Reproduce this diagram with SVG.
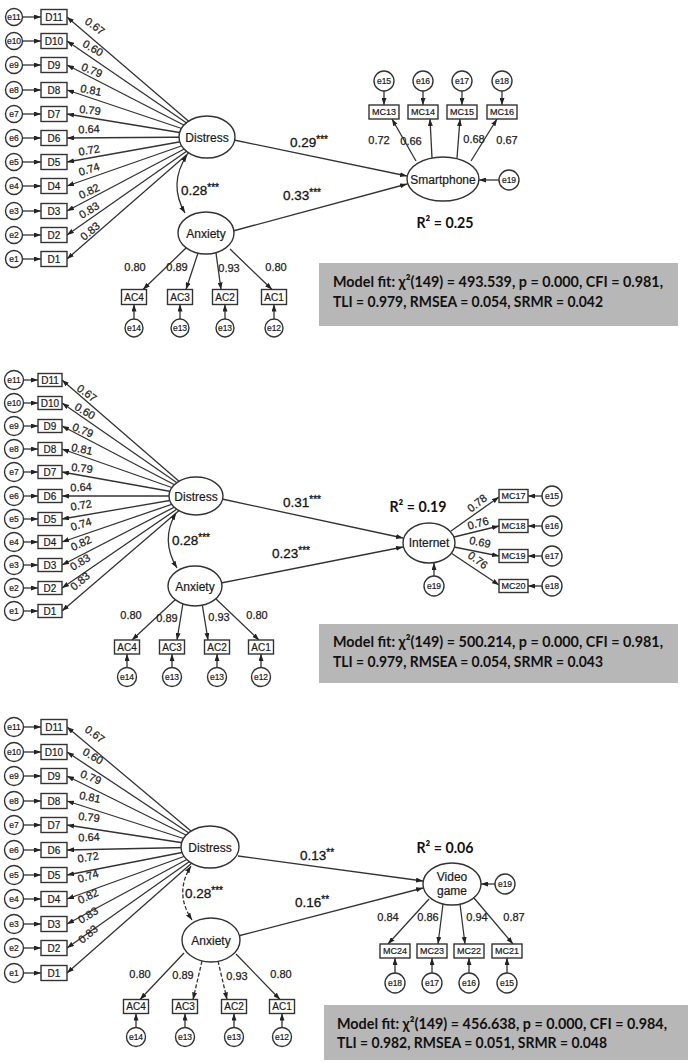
<svg xmlns="http://www.w3.org/2000/svg" width="690" height="1063" viewBox="0 0 690 1063">
<style>
.ln{stroke:#333;stroke-width:1.3;fill:none;marker-end:url(#ah)}
.dl{stroke:#333;stroke-width:1.3;fill:none;stroke-dasharray:4 2;marker-end:url(#ah)}
.cv{stroke:#333;stroke-width:1.3;fill:none;marker-start:url(#ah);marker-end:url(#ah)}
.cd{stroke:#333;stroke-width:1.3;fill:none;stroke-dasharray:4 2;marker-start:url(#ah);marker-end:url(#ah)}
.nd{fill:#fff;stroke:#333;stroke-width:1.4}
.t{font-family:"Liberation Sans",Arial,sans-serif;fill:#1a1a1a;text-anchor:middle;stroke:#1a1a1a;stroke-width:0.2}
.e{font-size:8.5px}
.bx{font-size:10px}
.mc{font-size:9px}
.lv{font-size:12px}
.ld{font-family:"Liberation Sans",Arial,sans-serif;fill:#222;font-size:11px;text-anchor:middle;stroke:#222;stroke-width:0.25}
.pc{font-family:"Liberation Sans",Arial,sans-serif;fill:#151515;font-size:13.5px;stroke:#151515;stroke-width:0.3}
.st{font-size:10px}
.r2{font-family:Lato,"Liberation Sans",sans-serif;font-weight:bold;fill:#111;font-size:15px;text-anchor:middle}
.fit{fill:#b7b7b7}
.ft{font-family:Lato,"Liberation Sans",sans-serif;font-weight:bold;fill:#111;font-size:14.5px}
</style>
<defs>
<marker id="ah" viewBox="0 0 7 5" refX="7" refY="2.5" markerWidth="7" markerHeight="5" markerUnits="userSpaceOnUse" orient="auto-start-reverse"><path d="M0,0 L7,2.5 L0,5 z" fill="#222"/></marker>
</defs>
<rect width="690" height="1063" fill="#fff"/>

<!-- ================= PANEL 1 ================= -->
<g id="p1-connectors">
<line class="ln" x1="22.5" y1="17" x2="41" y2="17"/>
<line class="ln" x1="22.5" y1="41" x2="41" y2="41"/>
<line class="ln" x1="22.5" y1="65" x2="41" y2="65"/>
<line class="ln" x1="22.5" y1="90" x2="41" y2="90"/>
<line class="ln" x1="22.5" y1="114" x2="41" y2="114"/>
<line class="ln" x1="22.5" y1="138" x2="41" y2="138"/>
<line class="ln" x1="22.5" y1="162" x2="41" y2="162"/>
<line class="ln" x1="22.5" y1="186" x2="41" y2="186"/>
<line class="ln" x1="22.5" y1="211" x2="41" y2="211"/>
<line class="ln" x1="22.5" y1="235" x2="41" y2="235"/>
<line class="ln" x1="22.5" y1="259" x2="41" y2="259"/>
<line class="ln" x1="207" y1="137" x2="67" y2="17"/>
<line class="ln" x1="207" y1="137" x2="67" y2="41"/>
<line class="ln" x1="207" y1="137" x2="67" y2="65"/>
<line class="ln" x1="207" y1="137" x2="67" y2="90"/>
<line class="ln" x1="207" y1="137" x2="67" y2="114"/>
<line class="ln" x1="207" y1="137" x2="67" y2="138"/>
<line class="ln" x1="207" y1="137" x2="67" y2="162"/>
<line class="ln" x1="207" y1="137" x2="67" y2="186"/>
<line class="ln" x1="207" y1="137" x2="67" y2="211"/>
<line class="ln" x1="207" y1="137" x2="67" y2="235"/>
<line class="ln" x1="207" y1="137" x2="67" y2="259"/>
<path class="cv" d="M187,155 Q168,184 185,213"/>
<line class="ln" x1="234" y1="140" x2="407" y2="176"/>
<line class="ln" x1="233" y1="231" x2="407" y2="184"/>
<line class="ln" x1="186" y1="248" x2="143" y2="289.5"/>
<line class="ln" x1="198" y1="253" x2="186" y2="289.5"/>
<line class="ln" x1="216" y1="253" x2="221" y2="289.5"/>
<line class="ln" x1="230" y1="249" x2="272" y2="289.5"/>
<line class="ln" x1="134" y1="319" x2="134" y2="304.5"/>
<line class="ln" x1="180" y1="319" x2="180" y2="304.5"/>
<line class="ln" x1="225" y1="319" x2="225" y2="304.5"/>
<line class="ln" x1="274" y1="319" x2="274" y2="304.5"/>
<line class="ln" x1="416" y1="161" x2="392" y2="119"/>
<line class="ln" x1="432" y1="158" x2="430" y2="119"/>
<line class="ln" x1="457" y1="158" x2="460" y2="119"/>
<line class="ln" x1="471" y1="161" x2="497" y2="119"/>
<line class="ln" x1="384" y1="91" x2="384" y2="105"/>
<line class="ln" x1="423" y1="91" x2="423" y2="105"/>
<line class="ln" x1="462" y1="91" x2="462" y2="105"/>
<line class="ln" x1="502" y1="91" x2="502" y2="105"/>
<line class="ln" x1="499" y1="180" x2="479" y2="180"/>
</g>
<g id="p1-e11"><circle class="nd" cx="14" cy="17" r="8.5"/><text class="t e" x="14" y="20">e11</text></g>
<g id="p1-e10"><circle class="nd" cx="14" cy="41" r="8.5"/><text class="t e" x="14" y="44">e10</text></g>
<g id="p1-e9"><circle class="nd" cx="14" cy="65" r="8.5"/><text class="t e" x="14" y="68">e9</text></g>
<g id="p1-e8"><circle class="nd" cx="14" cy="90" r="8.5"/><text class="t e" x="14" y="93">e8</text></g>
<g id="p1-e7"><circle class="nd" cx="14" cy="114" r="8.5"/><text class="t e" x="14" y="117">e7</text></g>
<g id="p1-e6"><circle class="nd" cx="14" cy="138" r="8.5"/><text class="t e" x="14" y="141">e6</text></g>
<g id="p1-e5"><circle class="nd" cx="14" cy="162" r="8.5"/><text class="t e" x="14" y="165">e5</text></g>
<g id="p1-e4"><circle class="nd" cx="14" cy="186" r="8.5"/><text class="t e" x="14" y="189">e4</text></g>
<g id="p1-e3"><circle class="nd" cx="14" cy="211" r="8.5"/><text class="t e" x="14" y="214">e3</text></g>
<g id="p1-e2"><circle class="nd" cx="14" cy="235" r="8.5"/><text class="t e" x="14" y="238">e2</text></g>
<g id="p1-e1"><circle class="nd" cx="14" cy="259" r="8.5"/><text class="t e" x="14" y="262">e1</text></g>
<g id="p1-D11"><rect class="nd" x="41" y="9.5" width="26" height="15"/><text class="t bx" x="54" y="20.5">D11</text></g>
<g id="p1-D10"><rect class="nd" x="41" y="33.5" width="26" height="15"/><text class="t bx" x="54" y="44.5">D10</text></g>
<g id="p1-D9"><rect class="nd" x="41" y="57.5" width="26" height="15"/><text class="t bx" x="54" y="68.5">D9</text></g>
<g id="p1-D8"><rect class="nd" x="41" y="82.5" width="26" height="15"/><text class="t bx" x="54" y="93.5">D8</text></g>
<g id="p1-D7"><rect class="nd" x="41" y="106.5" width="26" height="15"/><text class="t bx" x="54" y="117.5">D7</text></g>
<g id="p1-D6"><rect class="nd" x="41" y="130.5" width="26" height="15"/><text class="t bx" x="54" y="141.5">D6</text></g>
<g id="p1-D5"><rect class="nd" x="41" y="154.5" width="26" height="15"/><text class="t bx" x="54" y="165.5">D5</text></g>
<g id="p1-D4"><rect class="nd" x="41" y="178.5" width="26" height="15"/><text class="t bx" x="54" y="189.5">D4</text></g>
<g id="p1-D3"><rect class="nd" x="41" y="203.5" width="26" height="15"/><text class="t bx" x="54" y="214.5">D3</text></g>
<g id="p1-D2"><rect class="nd" x="41" y="227.5" width="26" height="15"/><text class="t bx" x="54" y="238.5">D2</text></g>
<g id="p1-D1"><rect class="nd" x="41" y="251.5" width="26" height="15"/><text class="t bx" x="54" y="262.5">D1</text></g>
<g id="p1-distress"><ellipse class="nd" cx="207" cy="137" rx="28" ry="21"/><text class="t lv" x="207" y="141.5">Distress</text></g>
<g id="p1-anxiety"><ellipse class="nd" cx="206" cy="233" rx="28" ry="21"/><text class="t lv" x="206" y="237.5">Anxiety</text></g>
<g id="p1-AC4"><rect class="nd" x="121.5" y="289.5" width="25" height="15"/><text class="t bx" x="134" y="300.5">AC4</text></g>
<g id="p1-AC3"><rect class="nd" x="167.5" y="289.5" width="25" height="15"/><text class="t bx" x="180" y="300.5">AC3</text></g>
<g id="p1-AC2"><rect class="nd" x="212.5" y="289.5" width="25" height="15"/><text class="t bx" x="225" y="300.5">AC2</text></g>
<g id="p1-AC1"><rect class="nd" x="261.5" y="289.5" width="25" height="15"/><text class="t bx" x="274" y="300.5">AC1</text></g>
<g id="p1-e14"><circle class="nd" cx="134" cy="328" r="9"/><text class="t e" x="134" y="331">e14</text></g>
<g id="p1-e13a"><circle class="nd" cx="180" cy="328" r="9"/><text class="t e" x="180" y="331">e13</text></g>
<g id="p1-e13b"><circle class="nd" cx="225" cy="328" r="9"/><text class="t e" x="225" y="331">e13</text></g>
<g id="p1-e12"><circle class="nd" cx="274" cy="328" r="9"/><text class="t e" x="274" y="331">e12</text></g>
<g id="p1-smartphone"><ellipse class="nd" cx="443" cy="179" rx="36" ry="22"/><text class="t lv" x="443" y="183.5">Smartphone</text></g>
<g id="p1-MC13"><rect class="nd" x="369" y="105" width="30" height="14"/><text class="t mc" x="384" y="115.2">MC13</text></g>
<g id="p1-MC14"><rect class="nd" x="408" y="105" width="30" height="14"/><text class="t mc" x="423" y="115.2">MC14</text></g>
<g id="p1-MC15"><rect class="nd" x="447" y="105" width="30" height="14"/><text class="t mc" x="462" y="115.2">MC15</text></g>
<g id="p1-MC16"><rect class="nd" x="487" y="105" width="30" height="14"/><text class="t mc" x="502" y="115.2">MC16</text></g>
<g id="p1-e15"><circle class="nd" cx="384" cy="81" r="10"/><text class="t e" x="384" y="84">e15</text></g>
<g id="p1-e16"><circle class="nd" cx="423" cy="81" r="10"/><text class="t e" x="423" y="84">e16</text></g>
<g id="p1-e17"><circle class="nd" cx="462" cy="81" r="10"/><text class="t e" x="462" y="84">e17</text></g>
<g id="p1-e18"><circle class="nd" cx="502" cy="81" r="10"/><text class="t e" x="502" y="84">e18</text></g>
<g id="p1-e19"><circle class="nd" cx="509" cy="180" r="10"/><text class="t e" x="509" y="183">e19</text></g>
<g id="p1-labels">
<text class="ld" transform="translate(95,26) rotate(36)" dy="4">0.67</text>
<text class="ld" transform="translate(93,48) rotate(30)" dy="4">0.60</text>
<text class="ld" transform="translate(92,70) rotate(22)" dy="4">0.79</text>
<text class="ld" transform="translate(91,90) rotate(12)" dy="4">0.81</text>
<text class="ld" transform="translate(90,110) rotate(6)" dy="4">0.79</text>
<text class="ld" transform="translate(89,129) rotate(-3)" dy="4">0.64</text>
<text class="ld" transform="translate(89,150) rotate(-10)" dy="4">0.72</text>
<text class="ld" transform="translate(89,169) rotate(-17)" dy="4">0.74</text>
<text class="ld" transform="translate(89,191) rotate(-25)" dy="4">0.82</text>
<text class="ld" transform="translate(89,210) rotate(-32)" dy="4">0.83</text>
<text class="ld" transform="translate(90,231) rotate(-40)" dy="4">0.83</text>
<text class="ld" x="135" y="271">0.80</text>
<text class="ld" x="177" y="271">0.89</text>
<text class="ld" x="229" y="272">0.93</text>
<text class="ld" x="276" y="271">0.80</text>
<text class="ld" x="379" y="144">0.72</text>
<text class="ld" x="411" y="145">0.66</text>
<text class="ld" x="474" y="143">0.68</text>
<text class="ld" x="507" y="144">0.67</text>
<text class="pc" x="181" y="195">0.28<tspan class="st" dy="-4">***</tspan></text>
<text class="pc" x="290" y="147">0.29<tspan class="st" dy="-4">***</tspan></text>
<text class="pc" x="283" y="200">0.33<tspan class="st" dy="-4">***</tspan></text>
<text class="r2" x="445" y="228" textLength="57" lengthAdjust="spacingAndGlyphs">R² = 0.25</text>
</g>
<g id="p1-fit">
<rect class="fit" x="319" y="263" width="359" height="63"/>
<text class="ft" x="333" y="287" textLength="330" lengthAdjust="spacingAndGlyphs">Model fit: χ²(149) = 493.539, p = 0.000, CFI = 0.981,</text>
<text class="ft" x="333" y="307" textLength="270" lengthAdjust="spacingAndGlyphs">TLI = 0.979, RMSEA = 0.054, SRMR = 0.042</text>
</g>

<!-- ================= PANEL 2 ================= -->
<g id="p2-connectors">
<line class="ln" x1="23.5" y1="380" x2="38" y2="380"/>
<line class="ln" x1="23.5" y1="403" x2="38" y2="403"/>
<line class="ln" x1="23.5" y1="426" x2="38" y2="426"/>
<line class="ln" x1="23.5" y1="449" x2="38" y2="449"/>
<line class="ln" x1="23.5" y1="472" x2="38" y2="472"/>
<line class="ln" x1="23.5" y1="496" x2="38" y2="496"/>
<line class="ln" x1="23.5" y1="519" x2="38" y2="519"/>
<line class="ln" x1="23.5" y1="542" x2="38" y2="542"/>
<line class="ln" x1="23.5" y1="565" x2="38" y2="565"/>
<line class="ln" x1="23.5" y1="588" x2="38" y2="588"/>
<line class="ln" x1="23.5" y1="611" x2="38" y2="611"/>
<line class="ln" x1="196" y1="496" x2="62" y2="380"/>
<line class="ln" x1="196" y1="496" x2="62" y2="403"/>
<line class="ln" x1="196" y1="496" x2="62" y2="426"/>
<line class="ln" x1="196" y1="496" x2="62" y2="449"/>
<line class="ln" x1="196" y1="496" x2="62" y2="472"/>
<line class="ln" x1="196" y1="496" x2="62" y2="496"/>
<line class="ln" x1="196" y1="496" x2="62" y2="519"/>
<line class="ln" x1="196" y1="496" x2="62" y2="542"/>
<line class="ln" x1="196" y1="496" x2="62" y2="565"/>
<line class="ln" x1="196" y1="496" x2="62" y2="588"/>
<line class="ln" x1="196" y1="496" x2="62" y2="611"/>
<path class="cv" d="M176,513 Q160,540 177,568"/>
<line class="ln" x1="222" y1="499" x2="403" y2="538"/>
<line class="ln" x1="221" y1="583" x2="403" y2="547"/>
<line class="ln" x1="176" y1="599" x2="132" y2="640"/>
<line class="ln" x1="183" y1="603" x2="177" y2="640"/>
<line class="ln" x1="202" y1="603" x2="208" y2="640"/>
<line class="ln" x1="216" y1="599" x2="259" y2="640"/>
<line class="ln" x1="127" y1="667.5" x2="127" y2="654"/>
<line class="ln" x1="172" y1="667.5" x2="172" y2="654"/>
<line class="ln" x1="217" y1="667.5" x2="217" y2="654"/>
<line class="ln" x1="261" y1="667.5" x2="261" y2="654"/>
<line class="ln" x1="451" y1="531" x2="499" y2="497"/>
<line class="ln" x1="454" y1="537" x2="499" y2="526"/>
<line class="ln" x1="454" y1="547" x2="499" y2="556"/>
<line class="ln" x1="451" y1="553" x2="499" y2="585"/>
<line class="ln" x1="542" y1="496" x2="528" y2="496"/>
<line class="ln" x1="542" y1="526" x2="528" y2="526"/>
<line class="ln" x1="542" y1="556" x2="528" y2="556"/>
<line class="ln" x1="542" y1="586" x2="528" y2="586"/>
<line class="ln" x1="434" y1="576" x2="434" y2="563"/>
</g>
<g id="p2-e11"><circle class="nd" cx="14" cy="380" r="9.5"/><text class="t e" x="14" y="383">e11</text></g>
<g id="p2-e10"><circle class="nd" cx="14" cy="403" r="9.5"/><text class="t e" x="14" y="406">e10</text></g>
<g id="p2-e9"><circle class="nd" cx="14" cy="426" r="9.5"/><text class="t e" x="14" y="429">e9</text></g>
<g id="p2-e8"><circle class="nd" cx="14" cy="449" r="9.5"/><text class="t e" x="14" y="452">e8</text></g>
<g id="p2-e7"><circle class="nd" cx="14" cy="472" r="9.5"/><text class="t e" x="14" y="475">e7</text></g>
<g id="p2-e6"><circle class="nd" cx="14" cy="496" r="9.5"/><text class="t e" x="14" y="499">e6</text></g>
<g id="p2-e5"><circle class="nd" cx="14" cy="519" r="9.5"/><text class="t e" x="14" y="522">e5</text></g>
<g id="p2-e4"><circle class="nd" cx="14" cy="542" r="9.5"/><text class="t e" x="14" y="545">e4</text></g>
<g id="p2-e3"><circle class="nd" cx="14" cy="565" r="9.5"/><text class="t e" x="14" y="568">e3</text></g>
<g id="p2-e2"><circle class="nd" cx="14" cy="588" r="9.5"/><text class="t e" x="14" y="591">e2</text></g>
<g id="p2-e1"><circle class="nd" cx="14" cy="611" r="9.5"/><text class="t e" x="14" y="614">e1</text></g>
<g id="p2-D11"><rect class="nd" x="38" y="373.5" width="24" height="13"/><text class="t bx" x="50" y="383.5">D11</text></g>
<g id="p2-D10"><rect class="nd" x="38" y="396.5" width="24" height="13"/><text class="t bx" x="50" y="406.5">D10</text></g>
<g id="p2-D9"><rect class="nd" x="38" y="419.5" width="24" height="13"/><text class="t bx" x="50" y="429.5">D9</text></g>
<g id="p2-D8"><rect class="nd" x="38" y="442.5" width="24" height="13"/><text class="t bx" x="50" y="452.5">D8</text></g>
<g id="p2-D7"><rect class="nd" x="38" y="465.5" width="24" height="13"/><text class="t bx" x="50" y="475.5">D7</text></g>
<g id="p2-D6"><rect class="nd" x="38" y="489.5" width="24" height="13"/><text class="t bx" x="50" y="499.5">D6</text></g>
<g id="p2-D5"><rect class="nd" x="38" y="512.5" width="24" height="13"/><text class="t bx" x="50" y="522.5">D5</text></g>
<g id="p2-D4"><rect class="nd" x="38" y="535.5" width="24" height="13"/><text class="t bx" x="50" y="545.5">D4</text></g>
<g id="p2-D3"><rect class="nd" x="38" y="558.5" width="24" height="13"/><text class="t bx" x="50" y="568.5">D3</text></g>
<g id="p2-D2"><rect class="nd" x="38" y="581.5" width="24" height="13"/><text class="t bx" x="50" y="591.5">D2</text></g>
<g id="p2-D1"><rect class="nd" x="38" y="604.5" width="24" height="13"/><text class="t bx" x="50" y="614.5">D1</text></g>
<g id="p2-distress"><ellipse class="nd" cx="196" cy="496" rx="27" ry="19"/><text class="t lv" x="196" y="500.5">Distress</text></g>
<g id="p2-anxiety"><ellipse class="nd" cx="195" cy="586" rx="27" ry="20"/><text class="t lv" x="195" y="590.5">Anxiety</text></g>
<g id="p2-AC4"><rect class="nd" x="114.5" y="640" width="25" height="14"/><text class="t bx" x="127" y="650.5">AC4</text></g>
<g id="p2-AC3"><rect class="nd" x="159.5" y="640" width="25" height="14"/><text class="t bx" x="172" y="650.5">AC3</text></g>
<g id="p2-AC2"><rect class="nd" x="204.5" y="640" width="25" height="14"/><text class="t bx" x="217" y="650.5">AC2</text></g>
<g id="p2-AC1"><rect class="nd" x="248.5" y="640" width="25" height="14"/><text class="t bx" x="261" y="650.5">AC1</text></g>
<g id="p2-e14"><circle class="nd" cx="127" cy="677" r="9.5"/><text class="t e" x="127" y="680">e14</text></g>
<g id="p2-e13a"><circle class="nd" cx="172" cy="677" r="9.5"/><text class="t e" x="172" y="680">e13</text></g>
<g id="p2-e13b"><circle class="nd" cx="217" cy="677" r="9.5"/><text class="t e" x="217" y="680">e13</text></g>
<g id="p2-e12"><circle class="nd" cx="261" cy="677" r="9.5"/><text class="t e" x="261" y="680">e12</text></g>
<g id="p2-internet"><ellipse class="nd" cx="429" cy="543" rx="26" ry="20"/><text class="t lv" x="429" y="547" font-size="11.5">Internet</text></g>
<g id="p2-MC17"><rect class="nd" x="499" y="489.5" width="29" height="13"/><text class="t mc" x="513.5" y="499.2">MC17</text></g>
<g id="p2-MC18"><rect class="nd" x="499" y="519.5" width="29" height="13"/><text class="t mc" x="513.5" y="529.2">MC18</text></g>
<g id="p2-MC19"><rect class="nd" x="499" y="549.5" width="29" height="13"/><text class="t mc" x="513.5" y="559.2">MC19</text></g>
<g id="p2-MC20"><rect class="nd" x="499" y="579.5" width="29" height="13"/><text class="t mc" x="513.5" y="589.2">MC20</text></g>
<g id="p2-e15"><circle class="nd" cx="552" cy="496" r="10"/><text class="t e" x="552" y="499">e15</text></g>
<g id="p2-e16"><circle class="nd" cx="552" cy="526" r="10"/><text class="t e" x="552" y="529">e16</text></g>
<g id="p2-e17"><circle class="nd" cx="552" cy="556" r="10"/><text class="t e" x="552" y="559">e17</text></g>
<g id="p2-e18"><circle class="nd" cx="552" cy="586" r="10"/><text class="t e" x="552" y="589">e18</text></g>
<g id="p2-e19"><circle class="nd" cx="434" cy="586" r="10"/><text class="t e" x="434" y="589">e19</text></g>
<g id="p2-labels">
<text class="ld" transform="translate(87,393) rotate(36)" dy="4">0.67</text>
<text class="ld" transform="translate(85,411) rotate(30)" dy="4">0.60</text>
<text class="ld" transform="translate(83,430) rotate(22)" dy="4">0.79</text>
<text class="ld" transform="translate(82,449) rotate(12)" dy="4">0.81</text>
<text class="ld" transform="translate(82,468) rotate(6)" dy="4">0.79</text>
<text class="ld" transform="translate(81,487) rotate(-3)" dy="4">0.64</text>
<text class="ld" transform="translate(81,505) rotate(-10)" dy="4">0.72</text>
<text class="ld" transform="translate(81,524) rotate(-17)" dy="4">0.74</text>
<text class="ld" transform="translate(81,543) rotate(-25)" dy="4">0.82</text>
<text class="ld" transform="translate(80,562) rotate(-32)" dy="4">0.83</text>
<text class="ld" transform="translate(80,581) rotate(-40)" dy="4">0.83</text>
<text class="ld" x="131" y="619">0.80</text>
<text class="ld" x="167" y="622">0.89</text>
<text class="ld" x="219" y="621">0.93</text>
<text class="ld" x="257" y="619">0.80</text>
<text class="ld" transform="translate(477,503) rotate(-38)" dy="4">0.78</text>
<text class="ld" transform="translate(478,523) rotate(-15)" dy="4">0.76</text>
<text class="ld" transform="translate(480,542) rotate(12)" dy="4">0.69</text>
<text class="ld" transform="translate(478,560) rotate(36)" dy="4">0.76</text>
<text class="pc" x="172" y="545">0.28<tspan class="st" dy="-4">***</tspan></text>
<text class="pc" x="283" y="507">0.31<tspan class="st" dy="-4">***</tspan></text>
<text class="pc" x="272" y="558">0.23<tspan class="st" dy="-4">***</tspan></text>
<text class="r2" x="418" y="512" textLength="57" lengthAdjust="spacingAndGlyphs">R² = 0.19</text>
</g>
<g id="p2-fit">
<rect class="fit" x="319" y="624" width="359" height="59"/>
<text class="ft" x="333" y="647" textLength="330" lengthAdjust="spacingAndGlyphs">Model fit: χ²(149) = 500.214, p = 0.000, CFI = 0.981,</text>
<text class="ft" x="333" y="667" textLength="270" lengthAdjust="spacingAndGlyphs">TLI = 0.979, RMSEA = 0.054, SRMR = 0.043</text>
</g>

<!-- ================= PANEL 3 ================= -->
<g id="p3-connectors">
<line class="ln" x1="23.5" y1="727" x2="41" y2="727"/>
<line class="ln" x1="23.5" y1="752" x2="41" y2="752"/>
<line class="ln" x1="23.5" y1="776" x2="41" y2="776"/>
<line class="ln" x1="23.5" y1="801" x2="41" y2="801"/>
<line class="ln" x1="23.5" y1="825" x2="41" y2="825"/>
<line class="ln" x1="23.5" y1="850" x2="41" y2="850"/>
<line class="ln" x1="23.5" y1="875" x2="41" y2="875"/>
<line class="ln" x1="23.5" y1="899" x2="41" y2="899"/>
<line class="ln" x1="23.5" y1="924" x2="41" y2="924"/>
<line class="ln" x1="23.5" y1="948" x2="41" y2="948"/>
<line class="ln" x1="23.5" y1="973" x2="41" y2="973"/>
<line class="ln" x1="210" y1="847" x2="67" y2="727"/>
<line class="ln" x1="210" y1="847" x2="67" y2="752"/>
<line class="ln" x1="210" y1="847" x2="67" y2="776"/>
<line class="ln" x1="210" y1="847" x2="67" y2="801"/>
<line class="ln" x1="210" y1="847" x2="67" y2="825"/>
<line class="ln" x1="210" y1="847" x2="67" y2="850"/>
<line class="ln" x1="210" y1="847" x2="67" y2="875"/>
<line class="ln" x1="210" y1="847" x2="67" y2="899"/>
<line class="ln" x1="210" y1="847" x2="67" y2="924"/>
<line class="ln" x1="210" y1="847" x2="67" y2="948"/>
<line class="ln" x1="210" y1="847" x2="67" y2="973"/>
<path class="cd" d="M191,866 Q174,893 192,920"/>
<line class="ln" x1="238" y1="856" x2="423" y2="881"/>
<line class="ln" x1="238" y1="936" x2="423" y2="888"/>
<line class="ln" x1="184" y1="953" x2="140" y2="999.5"/>
<line class="dl" x1="202" y1="961" x2="193" y2="999.5"/>
<line class="dl" x1="218" y1="961" x2="227" y2="999.5"/>
<line class="ln" x1="236" y1="954" x2="280" y2="999.5"/>
<line class="ln" x1="136" y1="1027.5" x2="136" y2="1013.5"/>
<line class="ln" x1="185" y1="1027.5" x2="185" y2="1013.5"/>
<line class="ln" x1="234" y1="1027.5" x2="234" y2="1013.5"/>
<line class="ln" x1="282" y1="1027.5" x2="282" y2="1013.5"/>
<line class="ln" x1="429" y1="899" x2="388" y2="944"/>
<line class="ln" x1="443" y1="904" x2="438" y2="944"/>
<line class="ln" x1="460" y1="904" x2="465" y2="944"/>
<line class="ln" x1="474" y1="898" x2="513" y2="944"/>
<line class="ln" x1="395" y1="973" x2="395" y2="958"/>
<line class="ln" x1="432" y1="973" x2="432" y2="958"/>
<line class="ln" x1="469" y1="973" x2="469" y2="958"/>
<line class="ln" x1="507" y1="973" x2="507" y2="958"/>
<line class="ln" x1="495" y1="884" x2="481" y2="884"/>
</g>
<g id="p3-e11"><circle class="nd" cx="14" cy="727" r="9.5"/><text class="t e" x="14" y="730">e11</text></g>
<g id="p3-e10"><circle class="nd" cx="14" cy="752" r="9.5"/><text class="t e" x="14" y="755">e10</text></g>
<g id="p3-e9"><circle class="nd" cx="14" cy="776" r="9.5"/><text class="t e" x="14" y="779">e9</text></g>
<g id="p3-e8"><circle class="nd" cx="14" cy="801" r="9.5"/><text class="t e" x="14" y="804">e8</text></g>
<g id="p3-e7"><circle class="nd" cx="14" cy="825" r="9.5"/><text class="t e" x="14" y="828">e7</text></g>
<g id="p3-e6"><circle class="nd" cx="14" cy="850" r="9.5"/><text class="t e" x="14" y="853">e6</text></g>
<g id="p3-e5"><circle class="nd" cx="14" cy="875" r="9.5"/><text class="t e" x="14" y="878">e5</text></g>
<g id="p3-e4"><circle class="nd" cx="14" cy="899" r="9.5"/><text class="t e" x="14" y="902">e4</text></g>
<g id="p3-e3"><circle class="nd" cx="14" cy="924" r="9.5"/><text class="t e" x="14" y="927">e3</text></g>
<g id="p3-e2"><circle class="nd" cx="14" cy="948" r="9.5"/><text class="t e" x="14" y="951">e2</text></g>
<g id="p3-e1"><circle class="nd" cx="14" cy="973" r="9.5"/><text class="t e" x="14" y="976">e1</text></g>
<g id="p3-D11"><rect class="nd" x="41" y="719.5" width="26" height="15"/><text class="t bx" x="54" y="730.5">D11</text></g>
<g id="p3-D10"><rect class="nd" x="41" y="744.5" width="26" height="15"/><text class="t bx" x="54" y="755.5">D10</text></g>
<g id="p3-D9"><rect class="nd" x="41" y="768.5" width="26" height="15"/><text class="t bx" x="54" y="779.5">D9</text></g>
<g id="p3-D8"><rect class="nd" x="41" y="793.5" width="26" height="15"/><text class="t bx" x="54" y="804.5">D8</text></g>
<g id="p3-D7"><rect class="nd" x="41" y="817.5" width="26" height="15"/><text class="t bx" x="54" y="828.5">D7</text></g>
<g id="p3-D6"><rect class="nd" x="41" y="842.5" width="26" height="15"/><text class="t bx" x="54" y="853.5">D6</text></g>
<g id="p3-D5"><rect class="nd" x="41" y="867.5" width="26" height="15"/><text class="t bx" x="54" y="878.5">D5</text></g>
<g id="p3-D4"><rect class="nd" x="41" y="891.5" width="26" height="15"/><text class="t bx" x="54" y="902.5">D4</text></g>
<g id="p3-D3"><rect class="nd" x="41" y="916.5" width="26" height="15"/><text class="t bx" x="54" y="927.5">D3</text></g>
<g id="p3-D2"><rect class="nd" x="41" y="940.5" width="26" height="15"/><text class="t bx" x="54" y="951.5">D2</text></g>
<g id="p3-D1"><rect class="nd" x="41" y="965.5" width="26" height="15"/><text class="t bx" x="54" y="976.5">D1</text></g>
<g id="p3-distress"><ellipse class="nd" cx="210" cy="847" rx="29" ry="21"/><text class="t lv" x="210" y="851.5">Distress</text></g>
<g id="p3-anxiety"><ellipse class="nd" cx="211" cy="940" rx="29" ry="22"/><text class="t lv" x="211" y="944.5">Anxiety</text></g>
<g id="p3-AC4"><rect class="nd" x="123.5" y="999.5" width="25" height="14"/><text class="t bx" x="136" y="1010">AC4</text></g>
<g id="p3-AC3"><rect class="nd" x="172.5" y="999.5" width="25" height="14"/><text class="t bx" x="185" y="1010">AC3</text></g>
<g id="p3-AC2"><rect class="nd" x="221.5" y="999.5" width="25" height="14"/><text class="t bx" x="234" y="1010">AC2</text></g>
<g id="p3-AC1"><rect class="nd" x="269.5" y="999.5" width="25" height="14"/><text class="t bx" x="282" y="1010">AC1</text></g>
<g id="p3-e14"><circle class="nd" cx="136" cy="1037" r="9.5"/><text class="t e" x="136" y="1040">e14</text></g>
<g id="p3-e13a"><circle class="nd" cx="185" cy="1037" r="9.5"/><text class="t e" x="185" y="1040">e13</text></g>
<g id="p3-e13b"><circle class="nd" cx="234" cy="1037" r="9.5"/><text class="t e" x="234" y="1040">e13</text></g>
<g id="p3-e12"><circle class="nd" cx="282" cy="1037" r="9.5"/><text class="t e" x="282" y="1040">e12</text></g>
<g id="p3-videogame"><ellipse class="nd" cx="452" cy="884" rx="29" ry="21"/><text class="t lv" x="452" y="881">Video</text><text class="t lv" x="452" y="895">game</text></g>
<g id="p3-MC24"><rect class="nd" x="380" y="944" width="30" height="14"/><text class="t mc" x="395" y="954.2">MC24</text></g>
<g id="p3-MC23"><rect class="nd" x="417" y="944" width="30" height="14"/><text class="t mc" x="432" y="954.2">MC23</text></g>
<g id="p3-MC22"><rect class="nd" x="454" y="944" width="30" height="14"/><text class="t mc" x="469" y="954.2">MC22</text></g>
<g id="p3-MC21"><rect class="nd" x="492" y="944" width="30" height="14"/><text class="t mc" x="507" y="954.2">MC21</text></g>
<g id="p3-e18"><circle class="nd" cx="395" cy="983" r="10"/><text class="t e" x="395" y="986">e18</text></g>
<g id="p3-e17"><circle class="nd" cx="432" cy="983" r="10"/><text class="t e" x="432" y="986">e17</text></g>
<g id="p3-e16"><circle class="nd" cx="469" cy="983" r="10"/><text class="t e" x="469" y="986">e16</text></g>
<g id="p3-e15"><circle class="nd" cx="507" cy="983" r="10"/><text class="t e" x="507" y="986">e15</text></g>
<g id="p3-e19"><circle class="nd" cx="505" cy="884" r="10"/><text class="t e" x="505" y="887">e19</text></g>
<g id="p3-labels">
<text class="ld" transform="translate(95,734) rotate(36)" dy="4">0.67</text>
<text class="ld" transform="translate(93,756) rotate(30)" dy="4">0.60</text>
<text class="ld" transform="translate(91,777) rotate(22)" dy="4">0.79</text>
<text class="ld" transform="translate(90,797) rotate(12)" dy="4">0.81</text>
<text class="ld" transform="translate(89,817) rotate(6)" dy="4">0.79</text>
<text class="ld" transform="translate(89,837) rotate(-3)" dy="4">0.64</text>
<text class="ld" transform="translate(88,857) rotate(-10)" dy="4">0.72</text>
<text class="ld" transform="translate(88,876) rotate(-17)" dy="4">0.74</text>
<text class="ld" transform="translate(88,896) rotate(-25)" dy="4">0.82</text>
<text class="ld" transform="translate(88,915) rotate(-32)" dy="4">0.83</text>
<text class="ld" transform="translate(88,934) rotate(-40)" dy="4">0.83</text>
<text class="ld" x="140" y="978">0.80</text>
<text class="ld" x="183" y="979">0.89</text>
<text class="ld" x="237" y="980">0.93</text>
<text class="ld" x="281" y="978">0.80</text>
<text class="ld" x="388" y="921">0.84</text>
<text class="ld" x="428" y="921">0.86</text>
<text class="ld" x="477" y="921">0.94</text>
<text class="ld" x="514" y="921">0.87</text>
<text class="pc" x="185" y="898">0.28<tspan class="st" dy="-4">***</tspan></text>
<text class="pc" x="300" y="860">0.13<tspan class="st" dy="-4">**</tspan></text>
<text class="pc" x="295" y="907">0.16<tspan class="st" dy="-4">**</tspan></text>
<text class="r2" x="445" y="853" textLength="57" lengthAdjust="spacingAndGlyphs">R² = 0.06</text>
</g>
<g id="p3-fit">
<rect class="fit" x="324" y="1005" width="364" height="55"/>
<text class="ft" x="337" y="1028.5" textLength="330" lengthAdjust="spacingAndGlyphs">Model fit: χ²(149) = 456.638, p = 0.000, CFI = 0.984,</text>
<text class="ft" x="337" y="1048" textLength="270" lengthAdjust="spacingAndGlyphs">TLI = 0.982, RMSEA = 0.051, SRMR = 0.048</text>
</g>
</svg>
